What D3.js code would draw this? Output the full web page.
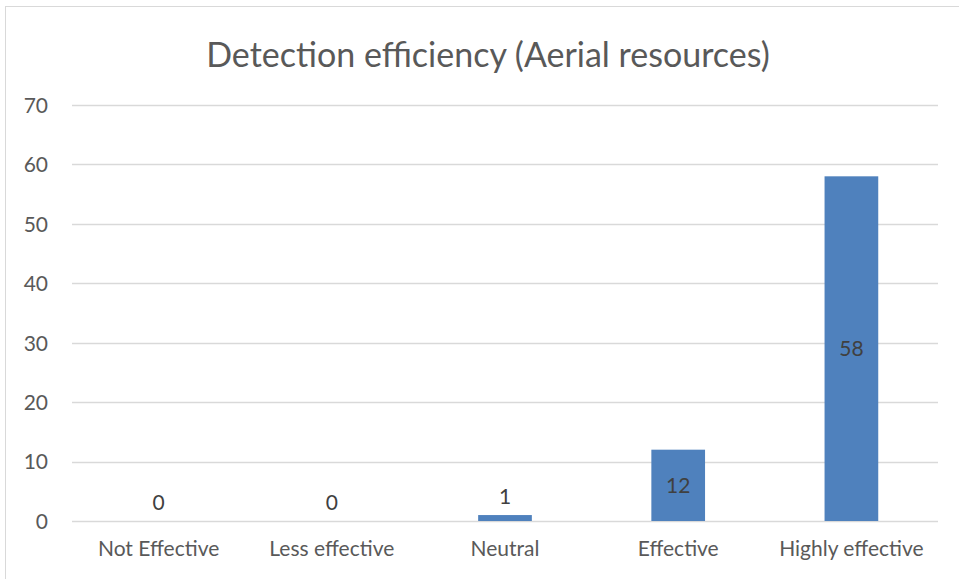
<!DOCTYPE html>
<html>
<head>
<meta charset="utf-8">
<script src="https://cdn.jsdelivr.net/npm/d3@7"></script>
<style>
  body { margin: 0; background: #fff; }
  text { font-family: Lato, "Open Sans", sans-serif; }
</style>
</head>
<body>
<svg id="chart" width="959" height="579"></svg>
<script>
var categories = ['Not Effective', 'Less effective', 'Neutral', 'Effective', 'Highly effective'];
var values = [0, 0, 1, 12, 58];
var yTicks = [0, 10, 20, 30, 40, 50, 60, 70];
var chartTitle = 'Detection efficiency (Aerial resources)';

var svg = d3.select('#chart');

var margin = { top: 105, right: 21, bottom: 58, left: 72 },
    width = 959 - margin.left - margin.right,
    height = 579 - margin.top - margin.bottom;

// outer chart border (only top/left visible in the reference)
svg.append('rect')
    .attr('x', 5.5)
    .attr('y', 6.5)
    .attr('width', 980)
    .attr('height', 600)
    .attr('fill', 'none')
    .attr('stroke', '#d9d9d9')
    .attr('stroke-width', 1);

svg.append('text')
    .attr('x', 488)
    .attr('y', 67)
    .attr('text-anchor', 'middle')
    .style('font-size', '34px')
    .style('fill', '#595959')
    .text(chartTitle);

var g = svg.append('g')
    .attr('transform', 'translate(' + margin.left + ',' + margin.top + ')');

var x = d3.scaleBand()
    .domain(categories)
    .range([0, width])
    .paddingInner(0.69)
    .paddingOuter(0.345);

var y = d3.scaleLinear()
    .domain([0, 70])
    .range([height, 0]);

// gridlines
g.append('g')
    .attr('class', 'grid')
    .selectAll('line')
    .data(yTicks)
    .enter().append('line')
    .attr('x1', 0)
    .attr('x2', width)
    .attr('y1', function (d) { return Math.round(y(d)) + 0.5; })
    .attr('y2', function (d) { return Math.round(y(d)) + 0.5; })
    .attr('stroke', '#d9d9d9')
    .attr('stroke-width', 1.5);

// y axis labels
var yAxis = g.append('g')
    .call(d3.axisLeft(y).tickValues(yTicks).tickSize(0).tickPadding(24));
yAxis.select('.domain').remove();
yAxis.selectAll('text')
    .style('font-size', '21px')
    .style('fill', '#595959')
    .attr('dy', '0.35em');

// x axis labels
var xAxis = g.append('g')
    .attr('transform', 'translate(0,' + height + ')')
    .call(d3.axisBottom(x).tickSize(0).tickPadding(20));
xAxis.select('.domain').remove();
xAxis.selectAll('text')
    .style('font-size', '21px')
    .style('fill', '#595959');

// bars
g.selectAll('.bar')
    .data(values)
    .enter().append('rect')
    .attr('class', 'bar')
    .attr('x', function (d, i) { return x(categories[i]); })
    .attr('y', function (d) { return y(d); })
    .attr('width', x.bandwidth())
    .attr('height', function (d) { return height - y(d); })
    .attr('fill', '#4f81bd');

// data labels
g.selectAll('.label')
    .data(values)
    .enter().append('text')
    .attr('class', 'label')
    .attr('x', function (d, i) { return x(categories[i]) + x.bandwidth() / 2; })
    .attr('y', function (d) {
        var h = height - y(d);
        if (h < 30) {
            return y(d) - 18;
        }
        return y(d) + h / 2;
    })
    .attr('dy', '0.35em')
    .attr('text-anchor', 'middle')
    .style('font-size', '21px')
    .style('fill', '#404040')
    .text(function (d) { return d; });
</script>
</body>
</html>
